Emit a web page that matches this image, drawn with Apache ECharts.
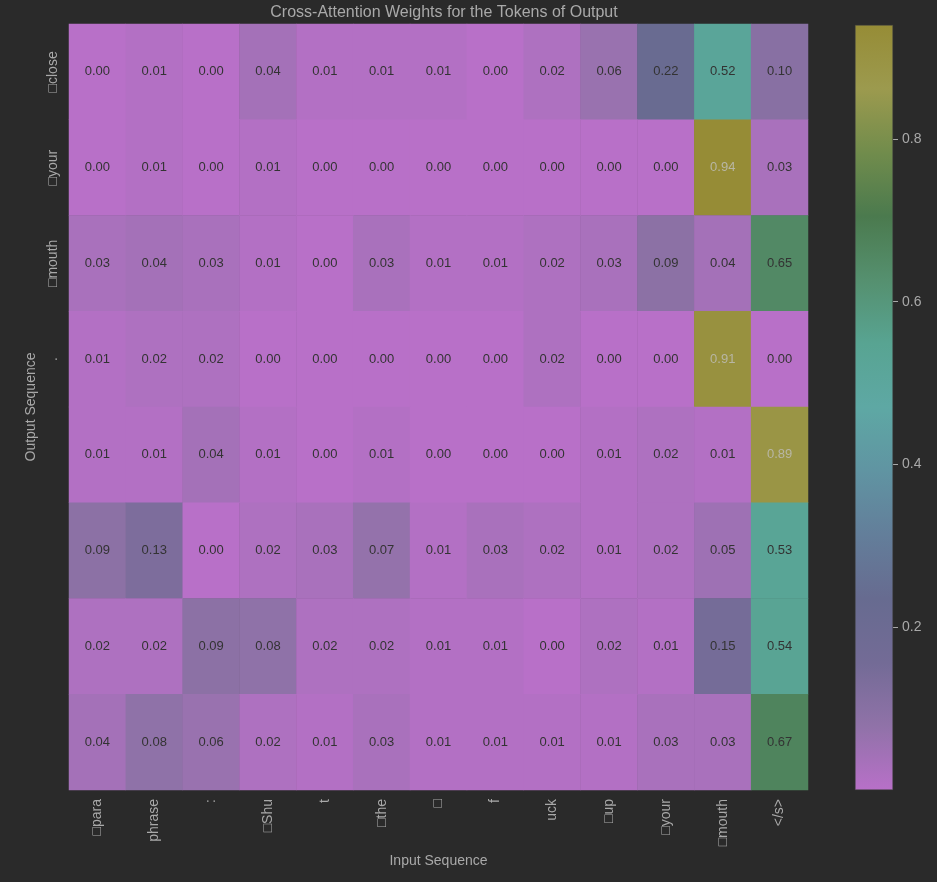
<!DOCTYPE html>
<html>
<head>
<meta charset="utf-8">
<script src="https://cdn.jsdelivr.net/npm/echarts@6/dist/echarts.min.js"></script>
<style>
html, body { margin: 0; background: #2a2a2a; }
#chart { width: 937px; height: 882px; }
</style>
</head>
<body>
<div id="chart"></div>
<script>
// tokens (x = input, y = output)
const inputTokens = ['□para', 'phrase', ':', '□Shu', 't', '□the', '□', 'f', 'uck', '□up', '□your', '□mouth', '</s>'];
const outputTokens = ['□close', '□your', '□mouth', '.', '', '', '', ''];

// attention weights, one array per output row
const rowClose = [0.00, 0.01, 0.00, 0.04, 0.01, 0.01, 0.01, 0.00, 0.02, 0.06, 0.22, 0.52, 0.10];
const rowYour  = [0.00, 0.01, 0.00, 0.01, 0.00, 0.00, 0.00, 0.00, 0.00, 0.00, 0.00, 0.94, 0.03];
const rowMouth = [0.03, 0.04, 0.03, 0.01, 0.00, 0.03, 0.01, 0.01, 0.02, 0.03, 0.09, 0.04, 0.65];
const rowDot   = [0.01, 0.02, 0.02, 0.00, 0.00, 0.00, 0.00, 0.00, 0.02, 0.00, 0.00, 0.91, 0.00];
const row5     = [0.01, 0.01, 0.04, 0.01, 0.00, 0.01, 0.00, 0.00, 0.00, 0.01, 0.02, 0.01, 0.89];
const row6     = [0.09, 0.13, 0.00, 0.02, 0.03, 0.07, 0.01, 0.03, 0.02, 0.01, 0.02, 0.05, 0.53];
const row7     = [0.02, 0.02, 0.09, 0.08, 0.02, 0.02, 0.01, 0.01, 0.00, 0.02, 0.01, 0.15, 0.54];
const row8     = [0.04, 0.08, 0.06, 0.02, 0.01, 0.03, 0.01, 0.01, 0.01, 0.01, 0.03, 0.03, 0.67];
const rows = [rowClose, rowYour, rowMouth, rowDot, row5, row6, row7, row8];

const colorbarTicks = [0.2, 0.4, 0.6, 0.8];
const vMin = 0;
const vMax = 0.94;

// colormap sampled off the colorbar, low -> high
const cmap = ['#b870c8', '#9072a8', '#736b96', '#676b90', '#637e9a', '#6094a2', '#5ea8a4',
              '#58a492', '#55906f', '#4b7a4e', '#718c4c', '#9c9a4e', '#968c36'];

const txt = '#a9a9a9';
const font = 'Liberation Sans, Arial, sans-serif';

const heatData = [];
rows.forEach((row, y) => {
    row.forEach((v, x) => {
        heatData.push({
            value: [x, y, v],
            label: { color: v > 0.8 ? '#b8b6a4' : '#333333' }
        });
    });
});

const chart = echarts.init(document.getElementById('chart'));

const option = {
    backgroundColor: '#2a2a2a',
    animation: false,
    textStyle: { fontFamily: font },
    title: {
        text: 'Cross-Attention Weights for the Tokens of Output',
        left: 439,
        textAlign: 'center',
        top: 0,
        textStyle: { color: txt, fontSize: 16, fontWeight: 'normal', fontFamily: font }
    },
    grid: [
        { left: 69, right: 129, top: 24, bottom: 92 },
        { left: 855, width: 38, top: 25, height: 765 }
    ],
    xAxis: [
        {
            type: 'category',
            data: inputTokens,
            gridIndex: 0,
            axisLine: { show: false },
            axisTick: { show: false },
            splitLine: { show: false },
            axisLabel: { rotate: 90, color: txt, fontSize: 14, margin: 9, interval: 0 },
            name: 'Input Sequence',
            nameLocation: 'middle',
            nameGap: 63,
            nameTextStyle: { color: txt, fontSize: 14 }
        },
        {
            type: 'category',
            data: ['cb'],
            gridIndex: 1,
            show: false
        }
    ],
    yAxis: [
        {
            type: 'category',
            data: outputTokens,
            gridIndex: 0,
            inverse: true,
            axisLine: { show: false },
            axisTick: { show: false },
            splitLine: { show: false },
            axisLabel: { rotate: 90, color: txt, fontSize: 14, margin: 9, interval: 0 },
            name: 'Output Sequence',
            nameLocation: 'middle',
            nameRotate: 90,
            nameGap: 30,
            nameTextStyle: { color: txt, fontSize: 14 }
        },
        {
            type: 'value',
            gridIndex: 1,
            position: 'right',
            min: vMin,
            max: vMax,
            axisLine: { show: false },
            splitLine: { show: false },
            axisTick: {
                show: true,
                length: 5,
                customValues: colorbarTicks,
                lineStyle: { color: txt }
            },
            axisLabel: {
                customValues: colorbarTicks,
                formatter: v => v.toFixed(1),
                color: txt,
                fontSize: 14,
                margin: 9
            }
        }
    ],
    visualMap: {
        show: false,
        seriesIndex: 0,
        min: vMin,
        max: vMax,
        inRange: { color: cmap }
    },
    series: [
        {
            type: 'heatmap',
            xAxisIndex: 0,
            yAxisIndex: 0,
            data: heatData,
            itemStyle: { borderWidth: 0 },
            label: {
                show: true,
                fontSize: 13,
                formatter: p => p.value[2].toFixed(2)
            },
            emphasis: { disabled: true }
        },
        {
            type: 'bar',
            xAxisIndex: 1,
            yAxisIndex: 1,
            data: [vMax],
            barWidth: '100%',
            silent: true,
            itemStyle: {
                color: new echarts.graphic.LinearGradient(0, 0, 0, 1,
                    cmap.slice().reverse().map((c, i, a) => ({ offset: i / (a.length - 1), color: c }))),
                borderColor: '#444444',
                borderWidth: 0.5
            }
        }
    ]
};

chart.setOption(option);
</script>
</body>
</html>
